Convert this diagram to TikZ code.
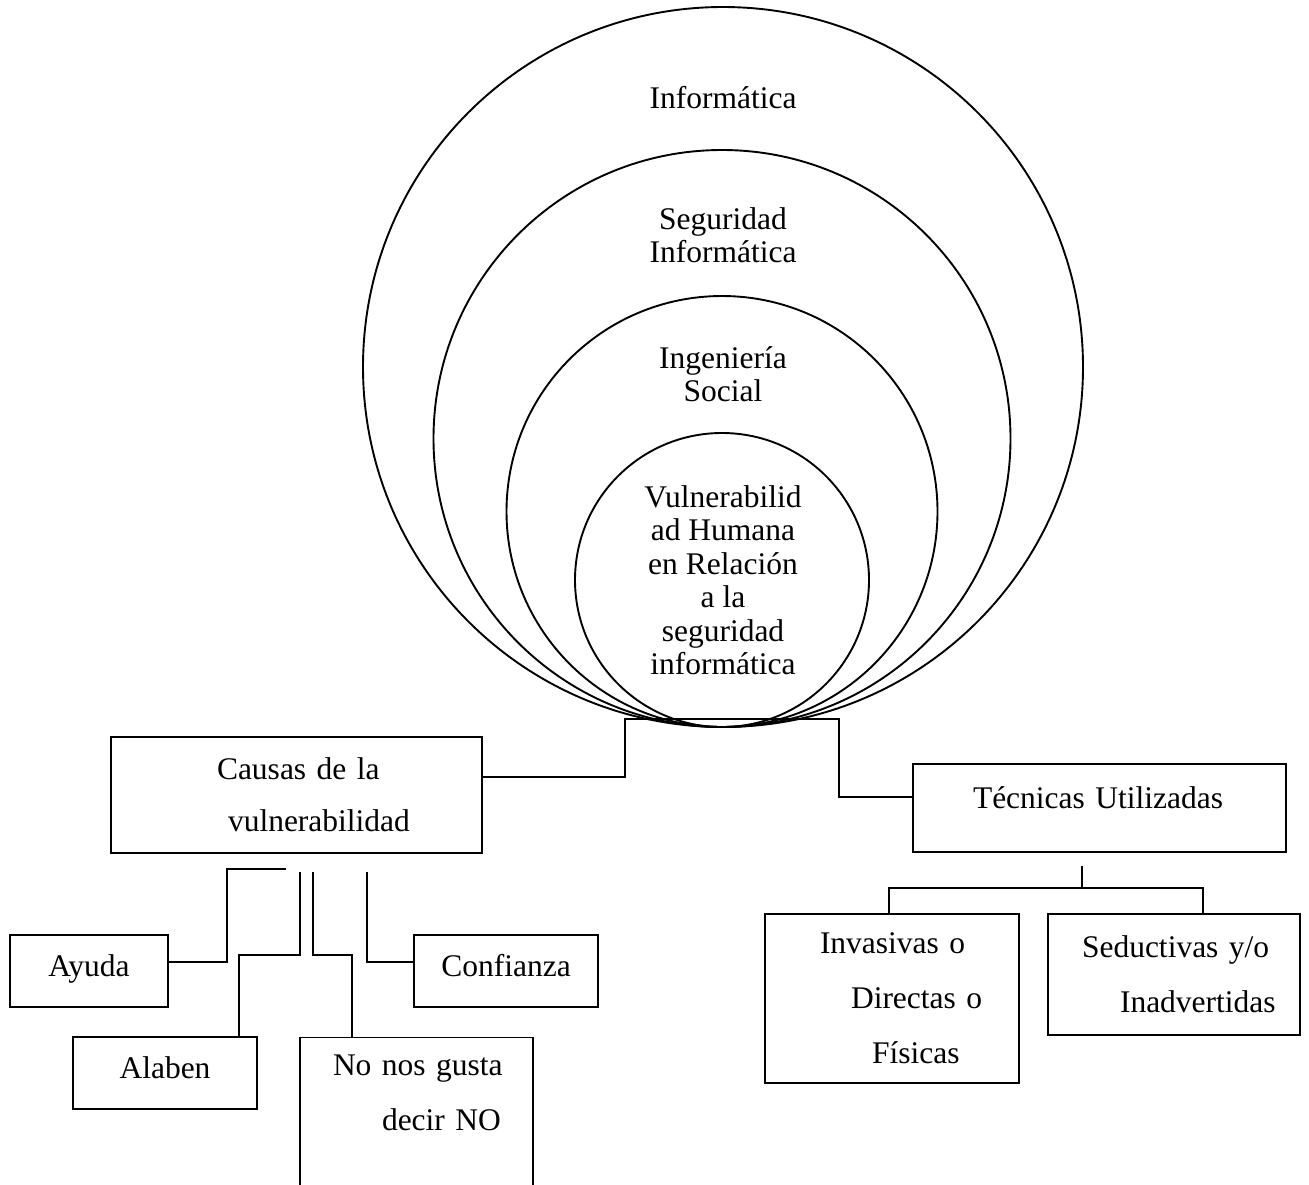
\documentclass[tikz,border=0pt]{standalone}
\usepackage{fontspec}
\setmainfont{Liberation Serif}
\usetikzlibrary{calc}

\tikzset{
  ring/.style={draw, circle, line width=1.9pt, inner sep=0pt},
  box/.style={draw, line width=1.8pt, inner sep=0pt, align=left},
  small/.style={box, align=center, minimum height=72pt, text height=22pt, text depth=12pt},
  link/.style={line width=1.8pt},
  lbl/.style={align=center, font=\fontsize{31.5}{33.5}\selectfont}
}

\begin{document}
\begin{tikzpicture}[x=1pt, y=-1pt, font=\fontsize{31.5}{55}\selectfont]
    \useasboundingbox (0,0) rectangle (1309,1184);
    % nested circles, all touching at the bottom
    \node[ring, minimum size=720pt] (c1) at (723,367) {};
    \node[ring, minimum size=577pt] (c2) at (722,438.5) {};
    \node[ring, minimum size=431pt] (c3) at (722,511.5) {};
    \node[ring, minimum size=294pt] (c4) at (722,580) {};
    \node[lbl] (t1) at (723,98) {Informática};
    \node[lbl] (t2) at (723,235) {Seguridad\\Informática};
    \node[lbl] (t3) at (723,374) {Ingeniería\\Social};
    \node[lbl] (t4) at (723,580) {Vulnerabilid\\ad Humana\\en Relación\\a la\\seguridad\\informática};
    % boxes
    \node[box, text width=371pt, minimum height=116pt, font=\fontsize{31.5}{52}\selectfont] (causas) at (296.5,795) {\hspace*{106pt}Causas de la\\\hspace*{117pt}vulnerabilidad};
    \node[box, text width=373pt, minimum height=88pt, text height=20pt, text depth=20pt] (tecnicas) at (1099.5,808) {\hspace*{60pt}Técnicas Utilizadas};
    \node[small, text width=158pt] (ayuda) at (89,971) {Ayuda};
    \node[small, text width=184pt] (alaben) at (165,1073) {Alaben};
    \node[box, text width=233pt, minimum height=165pt] (nonos) at (416.5,1120) {\hspace*{33pt}No nos gusta\\\hspace*{82pt}decir NO\\\mbox{}};
    \node[small, text width=184pt] (confianza) at (506,971) {Confianza};
    \node[box, text width=254pt, minimum height=169pt] (invasivas) at (892,998.5) {\hspace*{55pt}Invasivas o\\\hspace*{86pt}Directas o\\\hspace*{107pt}Físicas};
    \node[box, text width=252pt, minimum height=121pt] (seductivas) at (1174,974.5) {\hspace*{34pt}Seductivas y/o\\\hspace*{72pt}Inadvertidas};
    % connectors
    \coordinate (jl) at (625,719);
    \coordinate (jr) at (839,719);
    \draw[link] ($(causas.east)+(0,-18)$) -| (jl) -- (jr) |- ($(tecnicas.west)+(0,-11)$);
    \coordinate (ay0) at (286,869);
    \coordinate (al0) at (300,872);
    \coordinate (no0) at (313,872);
    \coordinate (co0) at (367,872);
    \draw[link] (ay0) -- ++(-59,0) |- ($(ayuda.east)+(0,-9)$);
    \draw[link] (al0) -- ++(0,83) -| ($(alaben.north)+(74,0)$);
    \draw[link] (no0) -- ++(0,83) -| ($(nonos.north)+(-64.5,0)$);
    \draw[link] (co0) |- ($(confianza.west)+(0,-9)$);
    \coordinate (tc0) at (1082,866);
    \draw[link] (tc0) -- ++(0,22) -| ($(invasivas.north)+(-3,0)$);
    \draw[link] (tc0) -- ++(0,22) -| ($(seductivas.north)+(29,0)$);
\end{tikzpicture}
\end{document}
